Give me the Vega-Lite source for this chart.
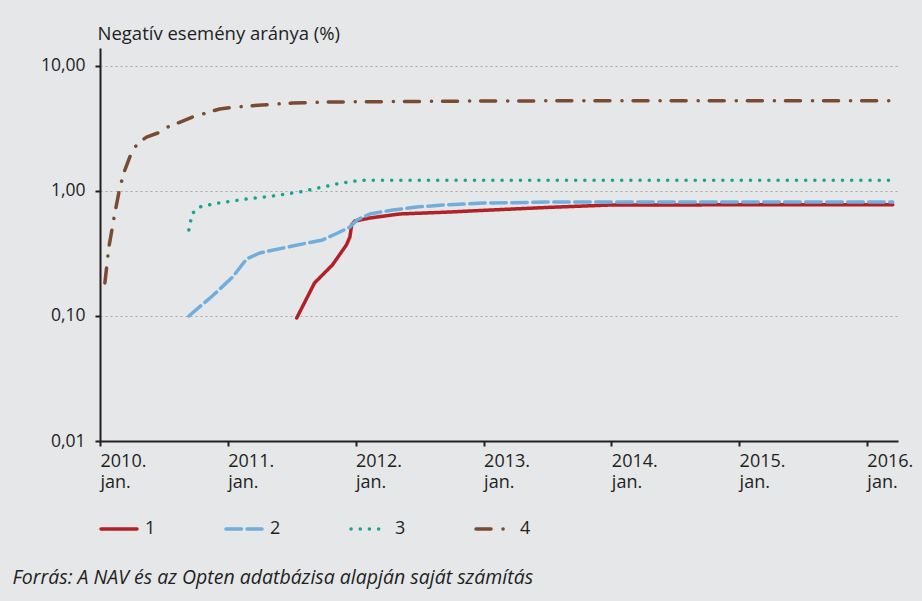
{
  "$schema": "https://vega.github.io/schema/vega-lite/v6.json",
  "width": 798,
  "height": 393,
  "autosize": {"type": "none"},
  "padding": {"left": 100, "top": 48, "right": 24, "bottom": 160},
  "background": "#e6e7e9",
  "config": {
    "view": {"stroke": null},
    "font": "Open Sans",
    "axis": {"labelFont": "Open Sans", "titleFont": "Open Sans", "labelColor": "#231f20", "titleColor": "#231f20"}
  },
  "data": {
    "values": [
      {"series": "1", "date": "2011-07-17", "value": 0.0964},
      {"series": "1", "date": "2011-09-06", "value": 0.184},
      {"series": "1", "date": "2011-10-27", "value": 0.256},
      {"series": "1", "date": "2011-12-06", "value": 0.37},
      {"series": "1", "date": "2011-12-16", "value": 0.429},
      {"series": "1", "date": "2011-12-21", "value": 0.535},
      {"series": "1", "date": "2011-12-30", "value": 0.575},
      {"series": "1", "date": "2012-02-11", "value": 0.608},
      {"series": "1", "date": "2012-05-06", "value": 0.655},
      {"series": "1", "date": "2012-09-27", "value": 0.679},
      {"series": "1", "date": "2013-01-01", "value": 0.70},
      {"series": "1", "date": "2013-07-08", "value": 0.74},
      {"series": "1", "date": "2014-01-01", "value": 0.773},
      {"series": "1", "date": "2015-01-01", "value": 0.775},
      {"series": "1", "date": "2016-03-15", "value": 0.775},
      {"series": "2", "date": "2010-09-12", "value": 0.1},
      {"series": "2", "date": "2010-11-18", "value": 0.1445},
      {"series": "2", "date": "2011-01-15", "value": 0.205},
      {"series": "2", "date": "2011-02-24", "value": 0.286},
      {"series": "2", "date": "2011-04-02", "value": 0.319},
      {"series": "2", "date": "2011-07-05", "value": 0.363},
      {"series": "2", "date": "2011-09-29", "value": 0.406},
      {"series": "2", "date": "2011-11-11", "value": 0.461},
      {"series": "2", "date": "2011-12-16", "value": 0.515},
      {"series": "2", "date": "2012-01-05", "value": 0.586},
      {"series": "2", "date": "2012-02-11", "value": 0.655},
      {"series": "2", "date": "2012-04-17", "value": 0.705},
      {"series": "2", "date": "2012-06-24", "value": 0.745},
      {"series": "2", "date": "2012-09-07", "value": 0.773},
      {"series": "2", "date": "2013-01-01", "value": 0.80},
      {"series": "2", "date": "2013-07-01", "value": 0.815},
      {"series": "2", "date": "2014-01-01", "value": 0.817},
      {"series": "2", "date": "2016-03-15", "value": 0.817},
      {"series": "3", "date": "2010-09-12", "value": 0.488},
      {"series": "3", "date": "2010-09-17", "value": 0.575},
      {"series": "3", "date": "2010-09-23", "value": 0.667},
      {"series": "3", "date": "2010-10-13", "value": 0.745},
      {"series": "3", "date": "2010-12-03", "value": 0.80},
      {"series": "3", "date": "2011-02-24", "value": 0.863},
      {"series": "3", "date": "2011-05-09", "value": 0.912},
      {"series": "3", "date": "2011-07-25", "value": 0.982},
      {"series": "3", "date": "2011-10-13", "value": 1.096},
      {"series": "3", "date": "2011-11-08", "value": 1.138},
      {"series": "3", "date": "2011-12-30", "value": 1.2},
      {"series": "3", "date": "2012-01-27", "value": 1.22},
      {"series": "3", "date": "2016-03-15", "value": 1.22},
      {"series": "4", "date": "2010-01-15", "value": 0.184},
      {"series": "4", "date": "2010-01-26", "value": 0.35},
      {"series": "4", "date": "2010-02-13", "value": 0.679},
      {"series": "4", "date": "2010-02-27", "value": 1.076},
      {"series": "4", "date": "2010-03-13", "value": 1.472},
      {"series": "4", "date": "2010-04-04", "value": 2.13},
      {"series": "4", "date": "2010-04-24", "value": 2.47},
      {"series": "4", "date": "2010-05-14", "value": 2.7},
      {"series": "4", "date": "2010-06-15", "value": 2.91},
      {"series": "4", "date": "2010-07-14", "value": 3.25},
      {"series": "4", "date": "2010-09-23", "value": 3.91},
      {"series": "4", "date": "2010-12-09", "value": 4.53},
      {"series": "4", "date": "2011-01-26", "value": 4.7},
      {"series": "4", "date": "2011-04-10", "value": 4.88},
      {"series": "4", "date": "2011-07-05", "value": 5.06},
      {"series": "4", "date": "2011-10-19", "value": 5.15},
      {"series": "4", "date": "2012-06-01", "value": 5.2},
      {"series": "4", "date": "2013-01-01", "value": 5.25},
      {"series": "4", "date": "2014-06-01", "value": 5.28},
      {"series": "4", "date": "2016-03-15", "value": 5.28}
    ]
  },
  "mark": {"type": "line", "strokeWidth": 3.5, "strokeCap": "round", "strokeJoin": "round"},
  "encoding": {
    "x": {
      "field": "date",
      "type": "temporal",
      "scale": {
        "type": "utc",
        "domain": [{"year": 2010, "month": 1, "date": 1, "utc": true}, {"year": 2016, "month": 3, "date": 30, "utc": true}],
        "nice": false
      },
      "axis": {
        "values": [
          {"year": 2010, "month": 1, "date": 1, "utc": true},
          {"year": 2011, "month": 1, "date": 1, "utc": true},
          {"year": 2012, "month": 1, "date": 1, "utc": true},
          {"year": 2013, "month": 1, "date": 1, "utc": true},
          {"year": 2014, "month": 1, "date": 1, "utc": true},
          {"year": 2015, "month": 1, "date": 1, "utc": true},
          {"year": 2016, "month": 1, "date": 1, "utc": true}
        ],
        "labelExpr": "[utcFormat(datum.value, '%Y.'), 'jan.']",
        "labelAlign": "left",
        "labelDx": -12,
        "labelBaseline": "top",
        "labelPadding": 6,
        "labelLineHeight": 21,
        "labelFontSize": 18,
        "labelFlush": false,
        "labelOverlap": false,
        "grid": false,
        "domainColor": "#231f20",
        "domainWidth": 2,
        "tickColor": "#231f20",
        "tickWidth": 2,
        "tickSize": 5,
        "title": "Forrás: A NAV és az Opten adatbázisa alapján saját számítás",
        "titleX": -88,
        "titleY": 142,
        "titleAlign": "left",
        "titleAnchor": null,
        "titleBaseline": "alphabetic",
        "titleFontStyle": "italic",
        "titleFontWeight": "normal",
        "titleFontSize": 19.5
      }
    },
    "y": {
      "field": "value",
      "type": "quantitative",
      "scale": {"type": "log", "domain": [0.01, 13.93], "nice": false},
      "axis": {
        "values": [0.01, 0.1, 1, 10],
        "labelExpr": "replace(format(datum.value, '.2f'), '.', ',')",
        "labelFontSize": 17.5,
        "labelPadding": 10,
        "domainColor": "#231f20",
        "domainWidth": 2,
        "tickColor": "#231f20",
        "tickWidth": 2,
        "tickSize": 5,
        "grid": true,
        "gridColor": "#a6a6a6",
        "gridDash": [2, 3],
        "gridWidth": 1,
        "title": "Negatív esemény aránya (%)",
        "titleAngle": 0,
        "titleX": -3,
        "titleY": -9,
        "titleAlign": "left",
        "titleAnchor": null,
        "titleBaseline": "alphabetic",
        "titleFontWeight": "normal",
        "titleFontSize": 18.5
      }
    },
    "color": {
      "field": "series",
      "type": "nominal",
      "scale": {"domain": ["1", "2", "3", "4"], "range": ["#b22028", "#72aedc", "#1aa394", "#7a4b30"]},
      "legend": {
        "title": null,
        "orient": "none",
        "legendX": -1,
        "legendY": 461,
        "direction": "horizontal",
        "symbolType": "stroke",
        "symbolSize": 1296,
        "symbolStrokeWidth": 3.5,
        "labelFontSize": 18,
        "labelFont": "Open Sans",
        "labelColor": "#231f20",
        "labelOffset": 6,
        "columnPadding": 63,
        "padding": 0,
        "encode": {"symbols": {"update": {"strokeCap": {"value": "round"}}}}
      }
    },
    "strokeDash": {
      "field": "series",
      "type": "nominal",
      "scale": {"domain": ["1", "2", "3", "4"], "range": [[1, 0], [15.5, 5.5], [0.1, 9.1], [15, 12, 0.1, 11]]},
      "legend": {
        "title": null,
        "orient": "none",
        "legendX": -1,
        "legendY": 461,
        "direction": "horizontal",
        "symbolType": "stroke",
        "symbolSize": 1296,
        "symbolStrokeWidth": 3.5,
        "labelFontSize": 18,
        "labelFont": "Open Sans",
        "labelColor": "#231f20",
        "labelOffset": 6,
        "columnPadding": 63,
        "padding": 0,
        "encode": {"symbols": {"update": {"strokeCap": {"value": "round"}}}}
      }
    }
  }
}
